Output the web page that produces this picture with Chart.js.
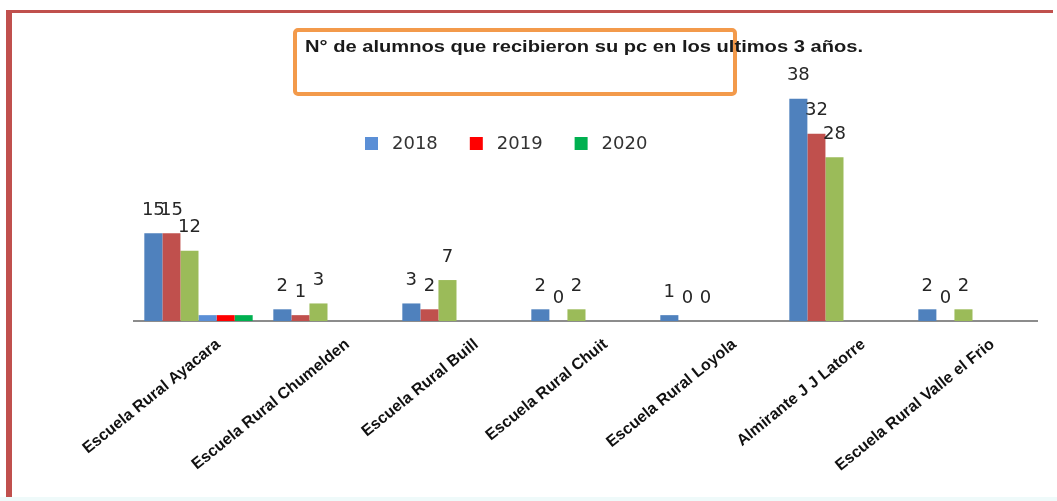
<!DOCTYPE html>
<html>
<head>
<meta charset="utf-8">
<script src="https://cdn.jsdelivr.net/npm/chart.js@4.4.0/dist/chart.umd.min.js"></script>
<style>
  html, body { margin: 0; padding: 0; background: #fff; }
  #wrap { position: relative; width: 1057px; height: 501px; overflow: hidden; }
  #frame { position: absolute; left: 6px; top: 10px; right: 4px; bottom: 4px;
           border-left: 6px solid #C0504D; border-top: 3px solid #C0504D; }
  #bottomline { position: absolute; left: 0; right: 0; bottom: 0; height: 4px; background: #EFFAFA; }
  canvas { position: absolute; left: 0; top: 0; }
</style>
</head>
<body>
<div id="wrap">
  <canvas id="chart-alumnos" width="1057" height="501"></canvas>
  <div id="frame"></div>
  <div id="bottomline"></div>
</div>
<script>
const escuelas = ['Escuela Rural Ayacara', 'Escuela Rural Chumelden', 'Escuela Rural Buill',
  'Escuela Rural Chuit', 'Escuela Rural Loyola', 'Almirante J J Latorre', 'Escuela Rural Valle el Frio'];

// barras principales (series sin nombre en el original)
const serie1 = [15, 2, 3, 2, 1, 38, 2];
const serie2 = [15, 1, 2, 0, 0, 32, 0];
const serie3 = [12, 3, 7, 2, 0, 28, 2];

// series de la leyenda, solo aparecen en la primera escuela
const anios = ['2018', '2019', '2020'];
const anio2018 = [1, null, null, null, null, null, null];
const anio2019 = [1, null, null, null, null, null, null];
const anio2020 = [1, null, null, null, null, null, null];

const titulo = 'N° de alumnos que recibieron su pc en los ultimos 3 años.';

const chartAlumnos = document.getElementById('chart-alumnos');

// titulo con recuadro naranja
const tituloPlugin = {
  id: 'tituloBox',
  afterDraw(chart) {
    const ctx = chart.ctx;
    ctx.save();
    ctx.strokeStyle = '#F39A4B';
    ctx.lineWidth = 4;
    ctx.beginPath();
    ctx.roundRect(295, 30, 440, 64, 3);
    ctx.stroke();
    ctx.fillStyle = '#1a1a1a';
    ctx.font = 'bold 16px "Liberation Sans"';
    ctx.textBaseline = 'middle';
    // el texto original esta estirado a lo ancho
    const w = ctx.measureText(titulo).width;
    ctx.translate(305, 48);
    ctx.scale(558 / w, 1);
    ctx.fillText(titulo, 0, 0);
    ctx.restore();
  }
};

// leyenda dibujada a mano dentro del area del grafico
const leyendaPlugin = {
  id: 'leyenda',
  afterDraw(chart) {
    const ctx = chart.ctx;
    ctx.save();
    ctx.font = '18px "DejaVu Sans"';
    ctx.textBaseline = 'middle';
    let x = 365;
    chart.data.datasets.filter(d => d.enLeyenda).forEach(d => {
      ctx.fillStyle = d.backgroundColor;
      ctx.fillRect(x, 137, 13, 13);
      ctx.fillStyle = '#333';
      ctx.fillText(d.label, x + 27, 144);
      x += 27 + ctx.measureText(d.label).width + 32;
    });
    ctx.restore();
  }
};

// etiquetas de valor encima de cada barra
const valoresPlugin = {
  id: 'valores',
  afterDatasetsDraw(chart) {
    const ctx = chart.ctx;
    ctx.save();
    ctx.font = '18px "DejaVu Sans"';
    ctx.fillStyle = '#262626';
    ctx.textAlign = 'center';
    ctx.textBaseline = 'bottom';
    chart.data.datasets.forEach((ds, i) => {
      if (ds.enLeyenda) return;
      chart.getDatasetMeta(i).data.forEach((bar, j) => {
        if (ds.data[j] == null) return;
        ctx.fillText(ds.data[j], bar.x, bar.y - 14);
      });
    });
    ctx.restore();
  }
};

new Chart(chartAlumnos, {
  type: 'bar',
  data: {
    labels: escuelas,
    datasets: [
      { label: 's1', data: serie1, backgroundColor: '#4F81BD' },
      { label: 's2', data: serie2, backgroundColor: '#C0504D' },
      { label: 's3', data: serie3, backgroundColor: '#9BBB59' },
      { label: anios[0], data: anio2018, backgroundColor: '#5B8FD6', enLeyenda: true },
      { label: anios[1], data: anio2019, backgroundColor: '#FF0000', enLeyenda: true },
      { label: anios[2], data: anio2020, backgroundColor: '#00B050', enLeyenda: true }
    ]
  },
  options: {
    responsive: false,
    animation: false,
    layout: { padding: { left: 134, right: 20, top: 87, bottom: 10 } },
    datasets: { bar: { barPercentage: 1, categoryPercentage: 0.84 } },
    plugins: {
      legend: { display: false },
      tooltip: { enabled: false }
    },
    scales: {
      y: { display: false, min: 0, max: 40 },
      x: {
        afterFit: s => { s.height = 170; },
        grid: { display: false, drawTicks: false },
        border: { display: true, color: '#8c8c8c', width: 2 },
        ticks: {
          minRotation: 39, maxRotation: 39, autoSkip: false, padding: 14,
          labelOffset: 20,
          color: '#111',
          font: { family: 'Liberation Sans', size: 16, weight: 'bold' }
        }
      }
    }
  },
  plugins: [tituloPlugin, leyendaPlugin, valoresPlugin]
});
</script>
</body>
</html>
